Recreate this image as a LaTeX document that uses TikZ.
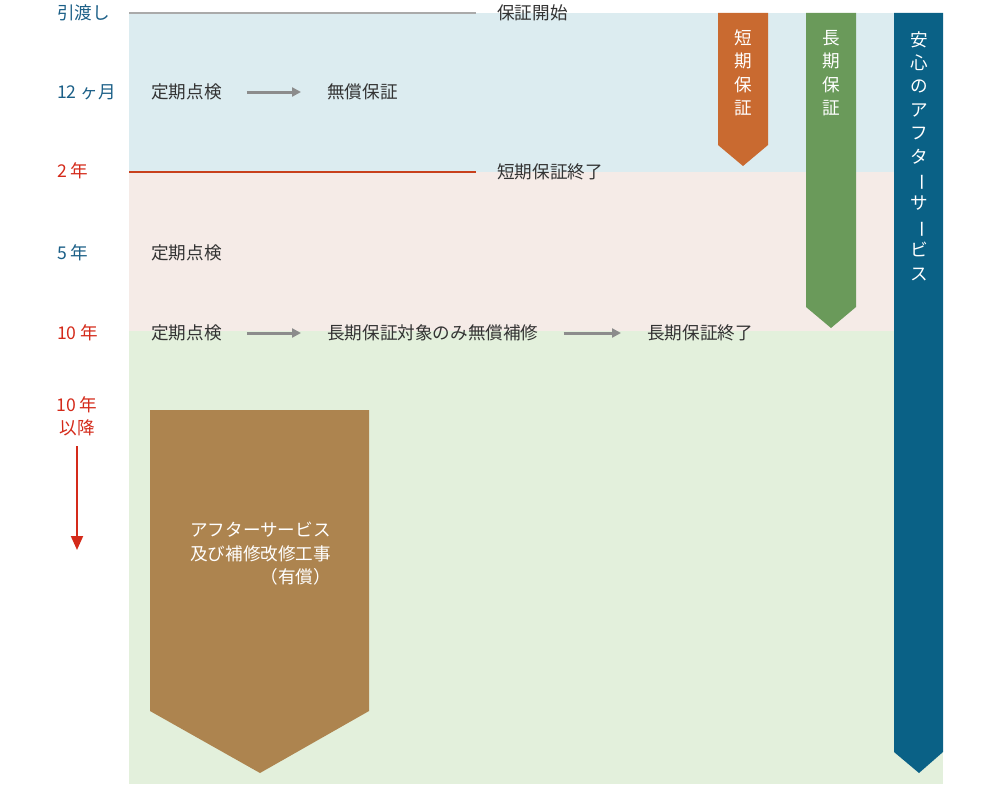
\documentclass[tikz,border=0pt]{standalone}
\usepackage{fontspec}
\usepackage{graphicx}
\setmainfont{Noto Sans CJK JP}
\usetikzlibrary{arrows.meta}
\definecolor{bgblue}{HTML}{DCECF0}
\definecolor{bgpink}{HTML}{F5EBE7}
\definecolor{bggreen}{HTML}{E3F0DC}
\definecolor{orangeb}{HTML}{C96A30}
\definecolor{greenb}{HTML}{6A9A5A}
\definecolor{navyb}{HTML}{0A6186}
\definecolor{brownb}{HTML}{AD844F}
\definecolor{lblblue}{HTML}{1B5F87}
\definecolor{lblred}{HTML}{D42A1A}
\definecolor{txt}{HTML}{333333}
\definecolor{arrgray}{HTML}{8C8C8C}
\definecolor{topline}{HTML}{AAAAAA}
\definecolor{redline}{HTML}{C8401C}
\newcommand{\vbar}{\rotatebox[origin=c]{-90}{ー}}
\begin{document}
\begin{tikzpicture}[x=1pt,y=-1pt,
  every node/.style={inner sep=0pt, font=\fontsize{17.6}{23.4}\selectfont},
  body/.style={anchor=west, text=txt},
  lblb/.style={anchor=west, text=lblblue},
  lblr/.style={anchor=west, text=lblred},
  vtext/.style={align=center, text=white},
  grayarrow/.style={draw=arrgray, line width=3pt, -{Triangle[length=9pt,width=9pt]}, shorten <=25pt, shorten >=26pt}
]
\useasboundingbox (0,0) rectangle (1000,784);
% background bands
\fill[bgblue] (129,13) rectangle (943,172);
\fill[bgpink] (129,172) rectangle (943,331);
\fill[bggreen] (129,331) rectangle (943,784);
\coordinate (tl) at (129,13);
\coordinate (rl) at (129,172);
% lines
\node[body] (start) at (497,13) {保証開始};
\node[body] (shortend) at (497,172) {短期保証終了};
\draw[topline, line width=2pt, shorten >=21pt] (tl) -- (start.west);
\draw[redline, line width=2pt, shorten >=21pt] (rl) -- (shortend.west);
% banners
\fill[orangeb] (718,13) -- (768,13) -- (768,145) -- (743,166) -- (718,145) -- cycle;
\fill[greenb] (806,13) -- (856,13) -- (856,307) -- (831,328) -- (806,307) -- cycle;
\fill[navyb] (894,13) -- (943,13) -- (943,752) -- (919,773) -- (894,752) -- cycle;
\fill[brownb] (150,410) -- (369,410) -- (369,711) -- (260,773) -- (150,711) -- cycle;
\node[vtext] (bshort) at (743,73) {短\\期\\保\\証};
\node[vtext] (blong) at (831,73) {長\\期\\保\\証};
\node[vtext] (bafter) at (919,156) {安\\心\\の\\ア\\フ\\タ\\\vbar\\サ\\\vbar\\ビ\\ス};
\node[align=left, text=white, anchor=north west] (paid) at (190,522) {アフターサービス\\及び補修改修工事\\\hspace{4em}（有償）};
% left labels
\node[lblb] (l0) at (57,13) {引渡し};
\node[lblb] (l1) at (57,92) {12 ヶ月};
\node[lblr] (l2) at (57,171) {2 年};
\node[lblb] (l5) at (57,253) {5 年};
\node[lblr] (l10) at (57,333) {10 年};
\node[text=lblred, align=center] (l10b) at (77,416) {10 年\\以降};
\coordinate (redtip) at (77,550);
\draw[lblred, line width=2pt, -{Triangle[length=14pt,width=12pt]}, shorten <=10pt] (l10b.south) -- (redtip);
% rows
\node[body] (k1) at (151,92) {定期点検};
\node[body] (free) at (327,92) {無償保証};
\draw[grayarrow] (k1.east) -- (free.west);
\node[body] (k5) at (151,253) {定期点検};
\node[body] (k10) at (151,333) {定期点検};
\node[body] (repair) at (327,333) {長期保証対象のみ無償補修};
\node[body] (longend) at (647,333) {長期保証終了};
\draw[grayarrow] (k10.east) -- (repair.west);
\draw[grayarrow] (repair.east) -- (longend.west);
\end{tikzpicture}
\end{document}
